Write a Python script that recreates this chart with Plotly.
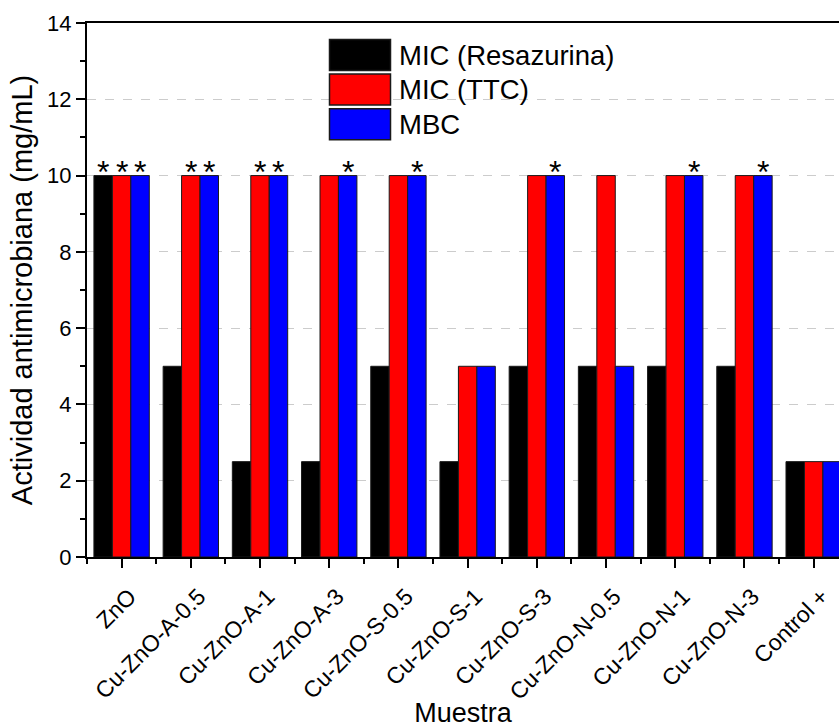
import plotly.graph_objects as go

categories = ["ZnO", "Cu-ZnO-A-0.5", "Cu-ZnO-A-1", "Cu-ZnO-A-3", "Cu-ZnO-S-0.5",
              "Cu-ZnO-S-1", "Cu-ZnO-S-3", "Cu-ZnO-N-0.5", "Cu-ZnO-N-1", "Cu-ZnO-N-3",
              "Control +"]
series_names = ["MIC (Resazurina)", "MIC (TTC)", "MBC"]
mic_resazurina = [10, 5, 2.5, 2.5, 5, 2.5, 5, 5, 5, 5, 2.5]
mic_ttc = [10, 10, 10, 10, 10, 5, 10, 10, 10, 10, 2.5]
mbc = [10, 10, 10, 10, 10, 5, 10, 5, 10, 10, 2.5]
# asterisk flags (1 = significant mark above bar)
star_resazurina = [1, 0, 0, 0, 0, 0, 0, 0, 0, 0, 0]
star_ttc = [1, 1, 1, 0, 0, 0, 0, 0, 0, 0, 0]
star_mbc = [1, 1, 1, 1, 1, 0, 1, 0, 1, 1, 0]
y_ticks = [0, 2, 4, 6, 8, 10, 12, 14]

colors = ["#000000", "#FF0000", "#0000FF"]
FONT = "Arial, Liberation Sans, sans-serif"

xs = list(range(len(categories)))
series = [mic_resazurina, mic_ttc, mbc]
stars = [star_resazurina, star_ttc, star_mbc]

fig = go.Figure()
for name, vals, col in zip(series_names, series, colors):
    fig.add_trace(go.Bar(x=xs, y=vals, name=name, marker=dict(color=col, line=dict(color="#1a1a1a", width=1)),
                         showlegend=False))

bargap = 0.2
bw = (1 - bargap) / 3
for j, (vals, flags) in enumerate(zip(series, stars)):
    for i, (v, f) in enumerate(zip(vals, flags)):
        if f:
            fig.add_annotation(x=i + (j - 1) * bw, y=v, xref="x", yref="y", text="*",
                               showarrow=False, yanchor="bottom", yshift=-16,
                               font=dict(family=FONT, size=32, color="black"))

# legend drawn manually with large keys
W, H = 839, 728
L, R, T, B = 87, 0, 23, 171
pw, ph = W - L - R, H - T - B
def px(x):
    return (x - L) / pw
def py(y):
    return (H - B - y) / ph
key_tops = [39.5, 74, 108.7]
for name, col, top in zip(series_names, colors, key_tops):
    fig.add_shape(type="rect", xref="paper", yref="paper", x0=px(329.5), x1=px(390.5),
                  y0=py(top + 31), y1=py(top), fillcolor=col, line=dict(color="#1a1a1a", width=1.5))
    fig.add_annotation(xref="paper", yref="paper", x=px(397), y=py(top + 15.5), text=name,
                       showarrow=False, xanchor="left", yanchor="middle",
                       font=dict(family=FONT, size=27.5, color="black"))

fig.update_layout(
    width=W, height=H,
    margin=dict(l=L, r=R, t=T, b=B, autoexpand=False),
    paper_bgcolor="white", plot_bgcolor="white",
    barmode="group", bargap=bargap, bargroupgap=0,
    font=dict(family=FONT, color="black"),
    showlegend=False,
)
fig.update_xaxes(
    range=[-0.5, 10.366], tickmode="array", tickvals=xs, ticktext=categories,
    tickangle=-45, tickfont=dict(size=23), showline=True, linecolor="black", linewidth=2,
    mirror=True, ticks="outside", ticklen=9, tickwidth=2, tickcolor="black",
    ticklabelstandoff=6, ticklabelshift=8,
    minor=dict(tickmode="array", tickvals=[x - 0.5 for x in xs] + [10.5], ticks="outside",
               ticklen=5, tickwidth=2, tickcolor="black"),
    showgrid=False, zeroline=False,
    title=dict(text="Muestra", font=dict(size=27), standoff=0),
)
fig.update_yaxes(
    range=[0, 14], tickmode="array", tickvals=y_ticks, tickfont=dict(size=22),
    showline=True, linecolor="black", linewidth=2, ticks="outside", ticklen=9, tickwidth=2,
    tickcolor="black",
    minor=dict(dtick=1, tick0=0, ticks="outside", ticklen=5, tickwidth=2, tickcolor="black", showgrid=False),
    showgrid=True, gridcolor="#cccccc", griddash="dash", gridwidth=1, zeroline=False,
    title=dict(text="Actividad antimicrobiana (mg/mL)", font=dict(size=29), standoff=6),
)
fig.write_html("out.html")
